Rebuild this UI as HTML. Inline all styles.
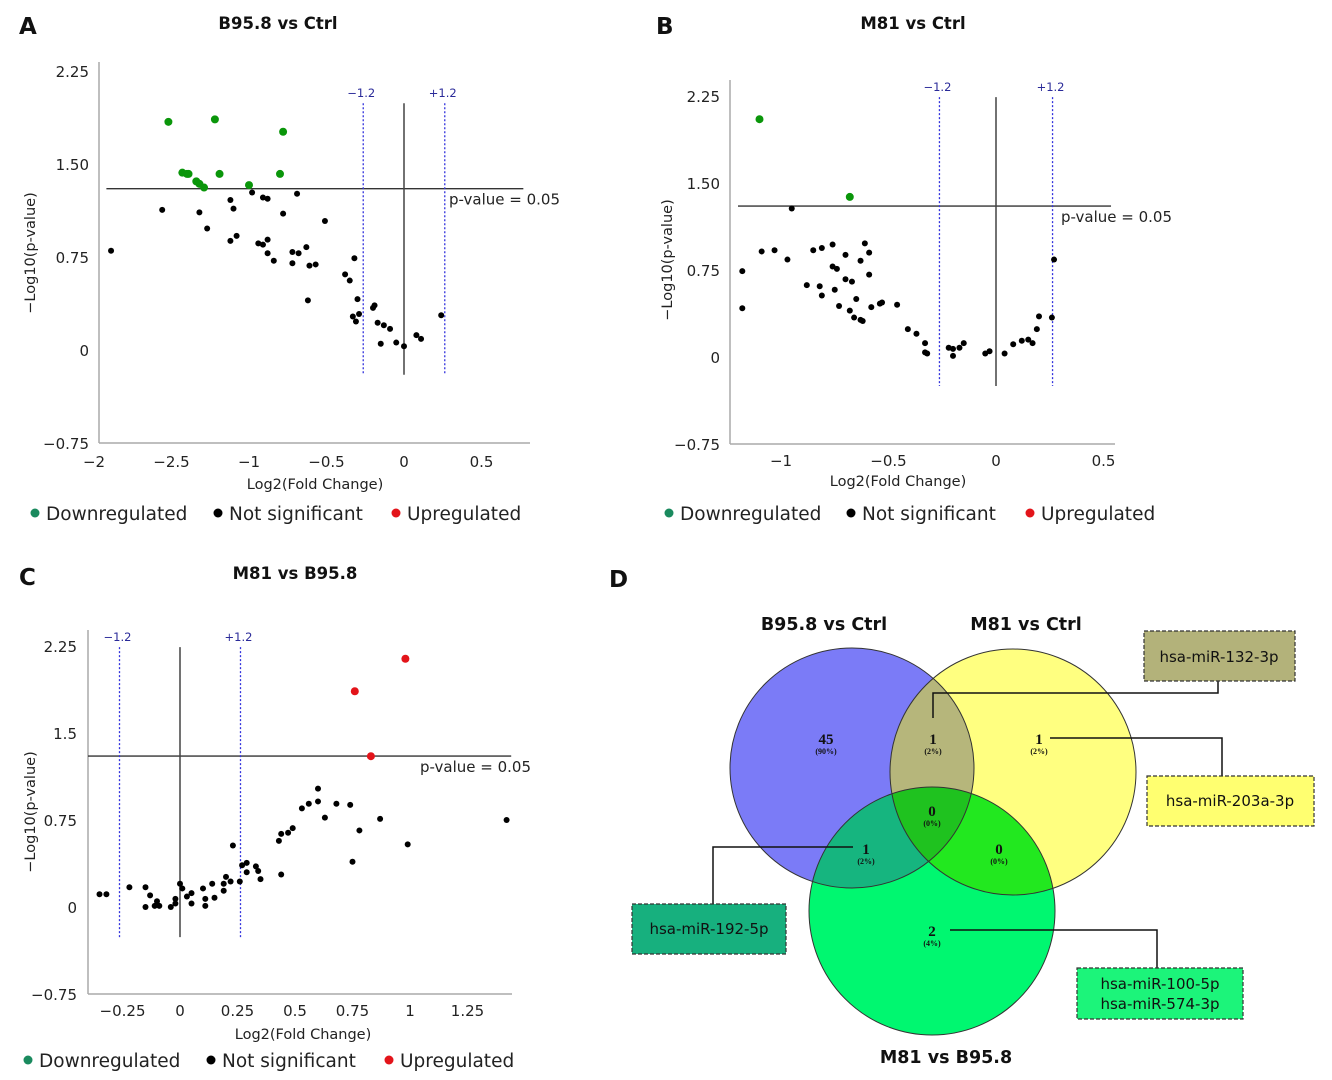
<!DOCTYPE html>
<html><head><meta charset="utf-8"><style>
html,body{margin:0;padding:0;background:#fff;}
svg{display:block;font-family:"DejaVu Sans","Liberation Sans",sans-serif;}
</style></head><body>
<svg id="fig" width="1332" height="1080" viewBox="0 0 1332 1080" xmlns="http://www.w3.org/2000/svg">
<rect width="1332" height="1080" fill="#fff"/>
<g id="venn">
<defs>
<clipPath id="cBlue"><ellipse cx="852" cy="768" rx="122" ry="120"/></clipPath>
<clipPath id="cYel"><ellipse cx="1013" cy="772" rx="123" ry="123"/></clipPath>
<clipPath id="cBY" clip-path="url(#cBlue)"><ellipse cx="1013" cy="772" rx="123" ry="123"/></clipPath>
</defs>
<ellipse cx="852" cy="768" rx="122" ry="120" fill="#7b7bf7"/>
<ellipse cx="1013" cy="772" rx="123" ry="123" fill="#ffff80"/>
<ellipse cx="932" cy="911" rx="123" ry="124" fill="#00f770"/>
<ellipse clip-path="url(#cBlue)" cx="1013" cy="772" rx="123" ry="123" fill="#b6b67b"/>
<ellipse clip-path="url(#cBlue)" cx="932" cy="911" rx="123" ry="124" fill="#16b57f"/>
<ellipse clip-path="url(#cYel)" cx="932" cy="911" rx="123" ry="124" fill="#22e81f"/>
<ellipse clip-path="url(#cBY)" cx="932" cy="911" rx="123" ry="124" fill="#1fc21f"/>
<g fill="none" stroke="#333" stroke-width="1">
<ellipse cx="852" cy="768" rx="122" ry="120"/><ellipse cx="1013" cy="772" rx="123" ry="123"/><ellipse cx="932" cy="911" rx="123" ry="124"/>
</g>
<g fill="none" stroke="#111" stroke-width="1.5">
<polyline points="1218,681 1218,693 933,693 933,718"/>
<polyline points="1050,738 1222,738 1222,776"/>
<polyline points="713,904 713,847 853,847"/>
<polyline points="950,930 1157,930 1157,968"/>
</g>
<g font-family="Liberation Serif,serif" font-weight="bold" text-anchor="middle" fill="#111">
<text x="826" y="744" font-size="15">45</text><text x="826" y="754" font-size="8">(90%)</text>
<text x="933" y="744" font-size="15">1</text><text x="933" y="754" font-size="8">(2%)</text>
<text x="1039" y="744" font-size="15">1</text><text x="1039" y="754" font-size="8">(2%)</text>
<text x="932" y="816" font-size="15">0</text><text x="932" y="826" font-size="8">(0%)</text>
<text x="866" y="854" font-size="15">1</text><text x="866" y="864" font-size="8">(2%)</text>
<text x="999" y="854" font-size="15">0</text><text x="999" y="864" font-size="8">(0%)</text>
<text x="932" y="936" font-size="15">2</text><text x="932" y="946" font-size="8">(4%)</text>
</g>
<g stroke="#333" stroke-width="1.2" stroke-dasharray="4,2">
<rect x="1144" y="631" width="151" height="50" fill="#b3b27a"/>
<rect x="1147" y="776" width="167" height="50" fill="#ffff70"/>
<rect x="632" y="904" width="154" height="50" fill="#17b07e"/>
<rect x="1077" y="968" width="166" height="51" fill="#1cf47a"/>
</g>
<g font-size="15" text-anchor="middle" fill="#111">
<text x="1219" y="662">hsa-miR-132-3p</text>
<text x="1230" y="806">hsa-miR-203a-3p</text>
<text x="709" y="934">hsa-miR-192-5p</text>
<text x="1160" y="989">hsa-miR-100-5p</text>
<text x="1160" y="1009">hsa-miR-574-3p</text>
</g>
<g font-size="17.5" font-weight="bold" text-anchor="middle" fill="#111">
<text x="824" y="630">B95.8 vs Ctrl</text>
<text x="1026" y="630">M81 vs Ctrl</text>
<text x="946" y="1063">M81 vs B95.8</text>
</g>
</g>
<g font-size="23" font-weight="bold" fill="#111">
<text x="19" y="34">A</text>
<text x="656" y="34">B</text>
<text x="19" y="585">C</text>
<text x="609" y="587">D</text>
</g>
</svg>
<script>
// Panel A: B95.8 vs Ctrl
const aDownX=[-1.52,-1.22,-0.78,-1.43,-1.40,-1.39,-1.34,-1.32,-1.29,-1.19,-0.80,-1.00];
const aDownY=[1.84,1.86,1.76,1.43,1.42,1.42,1.36,1.34,1.31,1.42,1.42,1.33];
const aNsX=[-0.98,-0.91,-0.88,-0.69,-1.12,-1.10,-1.56,-1.32,-0.78,-0.51,-1.27,-1.12,-1.08,-0.94,-0.91,-0.88,-0.88,-0.84,-0.72,-0.68,-0.63,-0.72,-0.61,-0.57,-1.89,-0.62,-0.38,-0.35,-0.32,-0.30,-0.33,-0.29,-0.31,-0.20,-0.19,-0.17,-0.13,-0.09,-0.15,-0.05,0.00,0.08,0.11,0.24];
const aNsY=[1.27,1.23,1.22,1.26,1.21,1.14,1.13,1.11,1.10,1.04,0.98,0.88,0.92,0.86,0.85,0.89,0.78,0.72,0.79,0.78,0.83,0.70,0.68,0.69,0.80,0.40,0.61,0.56,0.74,0.41,0.27,0.29,0.23,0.34,0.36,0.22,0.20,0.17,0.05,0.06,0.03,0.12,0.09,0.28];
const aUpX=[], aUpY=[];
const aXTicks=[-2,-1.5,-1,-0.5,0,0.5];
const aXTickLabels=["−2","−2.5","−1","−0.5","0","0.5"];
// Panel B: M81 vs Ctrl
const bDownX=[-1.10,-0.68];
const bDownY=[2.05,1.38];
const bNsX=[-0.95,-1.09,-1.03,-0.97,-1.18,-1.18,-0.85,-0.81,-0.76,-0.70,-0.61,-0.59,-0.63,-0.76,-0.74,-0.59,-0.70,-0.67,-0.88,-0.82,-0.75,-0.81,-0.65,-0.73,-0.58,-0.54,-0.53,-0.46,-0.68,-0.66,-0.63,-0.62,-0.41,-0.37,-0.33,-0.33,-0.32,-0.22,-0.20,-0.20,-0.17,-0.15,-0.05,-0.03,0.04,0.08,0.12,0.15,0.17,0.19,0.20,0.26,0.27];
const bNsY=[1.28,0.91,0.92,0.84,0.74,0.42,0.92,0.94,0.97,0.88,0.98,0.90,0.83,0.78,0.76,0.71,0.67,0.65,0.62,0.61,0.58,0.53,0.50,0.44,0.43,0.46,0.47,0.45,0.40,0.34,0.32,0.31,0.24,0.20,0.12,0.04,0.03,0.08,0.07,0.01,0.08,0.12,0.03,0.05,0.03,0.11,0.14,0.15,0.12,0.24,0.35,0.34,0.84];
const bUpX=[], bUpY=[];
const bXTicks=[-1,-0.5,0,0.5];
const bXTickLabels=["−1","−0.5","0","0.5"];
// Panel C: M81 vs B95.8
const cUpX=[0.98,0.76,0.83];
const cUpY=[2.14,1.86,1.30];
const cNsX=[-0.35,-0.32,-0.22,-0.15,-0.13,-0.15,-0.11,-0.10,-0.09,-0.04,-0.02,-0.02,0.00,0.01,0.03,0.05,0.05,0.10,0.11,0.11,0.14,0.15,0.19,0.19,0.20,0.22,0.23,0.26,0.27,0.29,0.29,0.33,0.34,0.35,0.43,0.44,0.44,0.47,0.49,0.53,0.56,0.60,0.60,0.63,0.68,0.74,0.78,0.75,0.87,0.99,1.42];
const cNsY=[0.11,0.11,0.17,0.17,0.10,0.00,0.01,0.05,0.01,0.00,0.07,0.03,0.20,0.16,0.09,0.12,0.03,0.16,0.07,0.01,0.20,0.08,0.20,0.14,0.26,0.22,0.53,0.22,0.36,0.38,0.30,0.35,0.31,0.24,0.57,0.63,0.28,0.64,0.68,0.85,0.89,0.91,1.02,0.77,0.89,0.88,0.66,0.39,0.76,0.54,0.75];
const cDownX=[], cDownY=[];
const cXTicks=[-0.25,0,0.25,0.5,0.75,1,1.25];
const cXTickLabels=["−0.25","0","0.25","0.5","0.75","1","1.25"];
const yTicks=[2.25,1.5,0.75,0,-0.75];
const abYTickLabels=["2.25","1.50","0.75","0","−0.75"];
const cYTickLabels=["2.25","1.5","0.75","0","−0.75"];
const fcThreshold=Math.log2(1.2);
const pThreshold=-Math.log10(0.05);

const NS='http://www.w3.org/2000/svg';
const svg=document.getElementById('fig');
function mk(tag,attrs,parent){const e=document.createElementNS(NS,tag);for(const k in attrs)e.setAttribute(k,attrs[k]);(parent||svg).appendChild(e);return e;}

function panel(p){
  const g=mk('g',{});
  
  
  const X=v=>p.x0+v*p.kx, Y=v=>p.y0-v*p.ky;
  const yax=mk('line',{x1:p.axX,y1:p.axTop,x2:p.axX,y2:p.axBot,stroke:'#aaa','stroke-width':1.5},g);
  
  
  const xax=mk('line',{x1:p.axX,y1:p.axBot,x2:p.axRight,y2:p.axBot,stroke:'#aaa','stroke-width':1.5},g);
  
  
  yTicks.forEach((v,i)=>{const t=mk('text',{x:p.yLabX,y:Y(v)+6,'text-anchor':'end','font-size':15,fill:'#222'},g);t.textContent=p.yLabels[i];
    
    });
  p.xTicks.forEach((v,i)=>{const t=mk('text',{x:X(v),y:p.xLabY,'text-anchor':'middle','font-size':15,fill:'#222'},g);t.textContent=p.xLabels[i];
    
    });
  const h=mk('line',{x1:X(p.hx0),x2:X(p.hx1),y1:Y(pThreshold),y2:Y(pThreshold),stroke:'#333','stroke-width':1.3},g);
  
  
  const hl=mk('text',{x:p.pLabX,y:Y(pThreshold)+16,'font-size':15,fill:'#222'},g);hl.textContent='p-value = 0.05';
  
  
  const z=mk('line',{x1:X(0),x2:X(0),y1:Y(p.vTop),y2:Y(p.vBot),stroke:'#444','stroke-width':1.5},g);
  
  
  [[-fcThreshold,'−1.2'],[fcThreshold,'+1.2']].forEach(([v,l])=>{
    const d=mk('line',{x1:X(v),x2:X(v),y1:Y(p.vTop),y2:Y(p.vBot),stroke:'#3333dd','stroke-width':1.3,'stroke-dasharray':'2,2'},g);
    
    
    const t=mk('text',{x:X(v)-2,y:Y(p.vTop)-6,'text-anchor':'middle','font-size':11.5,fill:'#2a2a99'},g);t.textContent=l;
    
    
  });
  const pts=(xs,ys,col,r,name)=>xs.forEach((v,i)=>{const c=mk('circle',{cx:X(v),cy:Y(ys[i]),r:r,fill:col},g);
    
    });
  pts(p.nsX,p.nsY,'#000',3,'point-not-significant');
  pts(p.downX,p.downY,'#0a960a',4,'point-downregulated');
  pts(p.upX,p.upY,'#e3141a',4,'point-upregulated');
  const t1=mk('text',{x:p.titleX,y:p.titleY,'text-anchor':'middle','font-size':16.5,'font-weight':'bold',fill:'#111'},g);t1.textContent=p.title;
  
  
  const xt=mk('text',{x:p.xtX,y:p.xtY,'text-anchor':'middle','font-size':14.5,fill:'#222'},g);xt.textContent='Log2(Fold Change)';
  
  
  const yt=mk('text',{x:0,y:0,'text-anchor':'middle','font-size':14.5,fill:'#222',transform:'translate('+p.ytX+','+p.ytY+') rotate(-90)'},g);yt.textContent='−Log10(p-value)';
  
  
  const lg=[['#1a8a5e','Downregulated'],['#000','Not significant'],['#e3141a','Upregulated']];
  lg.forEach(([c,l],i)=>{
    const cc=mk('circle',{cx:p.legX[i],cy:p.legY-7,r:4.5,fill:c},g);
    
    
    const t=mk('text',{x:p.legX[i]+11,y:p.legY,'font-size':18.5,fill:'#222'},g);t.textContent=l;
    
    
  });
}
panel({id:'a',x0:404,kx:155,y0:350,ky:124,axX:99,axTop:62,axBot:443,axRight:530,yLabX:89,xLabY:467,
  xTicks:aXTicks,xLabels:aXTickLabels,yLabels:abYTickLabels,hx0:-1.92,hx1:0.77,vTop:1.99,vBot:-0.2,pLabX:449,
  nsX:aNsX,nsY:aNsY,downX:aDownX,downY:aDownY,upX:aUpX,upY:aUpY,title:'B95.8 vs Ctrl',titleX:278,titleY:29,
  xtX:315,xtY:489,ytX:35,ytY:253,legX:[35,218,396],legY:520});
panel({id:'b',x0:996,kx:215,y0:357,ky:116,axX:730,axTop:80,axBot:444,axRight:1115,yLabX:720,xLabY:466,
  xTicks:bXTicks,xLabels:bXTickLabels,yLabels:abYTickLabels,hx0:-1.2,hx1:0.535,vTop:2.24,vBot:-0.25,pLabX:1061,
  nsX:bNsX,nsY:bNsY,downX:bDownX,downY:bDownY,upX:bUpX,upY:bUpY,title:'M81 vs Ctrl',titleX:913,titleY:29,
  xtX:898,xtY:486,ytX:672,ytY:260,legX:[669,851,1030],legY:520});
panel({id:'c',x0:180,kx:230,y0:907,ky:116,axX:88,axTop:630,axBot:994,axRight:512,yLabX:77,xLabY:1016,
  xTicks:cXTicks,xLabels:cXTickLabels,yLabels:cYTickLabels,hx0:-0.4,hx1:1.44,vTop:2.24,vBot:-0.26,pLabX:420,
  nsX:cNsX,nsY:cNsY,downX:cDownX,downY:cDownY,upX:cUpX,upY:cUpY,title:'M81 vs B95.8',titleX:295,titleY:579,
  xtX:303,xtY:1039,ytX:35,ytY:812,legX:[28,211,389],legY:1067});
</script>
</body></html>
